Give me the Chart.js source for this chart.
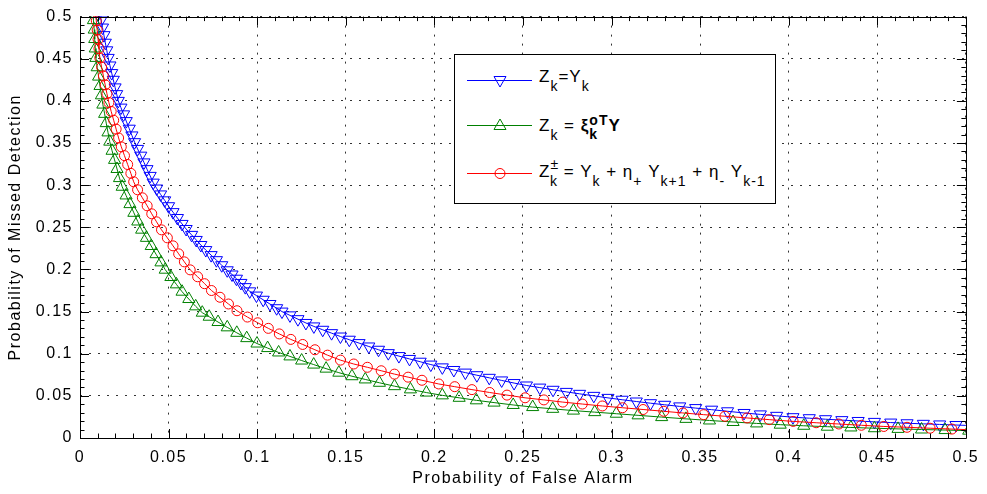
<!DOCTYPE html>
<html>
<head>
<meta charset="utf-8">
<script src="https://cdn.jsdelivr.net/npm/chart.js@4.4.1/dist/chart.umd.min.js"></script>
<style>
  body { margin: 0; background: #fff; }
  #wrap { position: relative; width: 987px; height: 494px; }
  #legend {
    position: absolute; left: 454px; top: 54px; width: 322px; height: 150px;
    box-sizing: border-box; border: 1px solid #000; background: #fff;
  }
  #legend svg { position: absolute; left: 0; top: 0; }
  .row {
    position: absolute; left: 539px; color: #000; white-space: nowrap;
    font: 17px 'Liberation Sans', Arial, Helvetica, sans-serif;
    line-height: 17px; letter-spacing: 1px;
  }
  .row sub, .row sup { font-size: 14px; vertical-align: baseline; position: relative; line-height: 0; }
  .row sub { top: 9px; }
  .row sup { top: -8px; }
</style>
</head>
<body>
<div id="wrap">
  <canvas id="roc" width="987" height="494"></canvas>
  <div id="legend">
    <svg width="320" height="148">
      <g fill="none" stroke-width="1">
        <line x1="12" y1="25.5" x2="77" y2="25.5" stroke="#0000ff"/>
        <polygon points="45,32 39,21.5 51,21.5" stroke="#0000ff"/>
        <line x1="12" y1="70.5" x2="77" y2="70.5" stroke="#008000"/>
        <polygon points="45,64 39,74.5 51,74.5" stroke="#008000"/>
        <line x1="12" y1="118.5" x2="77" y2="118.5" stroke="#ff0000"/>
        <circle cx="45" cy="118.5" r="5" stroke="#ff0000"/>
      </g>
    </svg>
  </div>
  <div class="row" style="top:68px">Z<sub>k</sub>=Y<sub>k</sub></div>
  <div class="row" style="top:117px">Z<sub>k</sub> = <b>ξ<sub style="top:8px">k</sub><sup style="top:-6px;margin-left:-8.8px">oT</sup>Y</b></div>
  <div class="row" style="top:163px">Z<sup>±</sup><sub style="margin-left:-9px">k</sub> = Y<sub>k</sub> + η<sub>+</sub> Y<sub>k+1</sub> + η<sub>-</sub> Y<sub>k-1</sub></div>
</div>
<script>
// ticks
const xTicks = [0, 0.05, 0.1, 0.15, 0.2, 0.25, 0.3, 0.35, 0.4, 0.45, 0.5];
const xTickLabels = ['0', '0.05', '0.1', '0.15', '0.2', '0.25', '0.3', '0.35', '0.4', '0.45', '0.5'];
const yTicks = [0, 0.05, 0.1, 0.15, 0.2, 0.25, 0.3, 0.35, 0.4, 0.45, 0.5];
const yTickLabels = ['0', '0.05', '0.1', '0.15', '0.2', '0.25', '0.3', '0.35', '0.4', '0.45', '0.5'];

// Z_k = Y_k (blue)
const blueX = [0.0111, 0.0119, 0.0127, 0.0135, 0.0143, 0.0151, 0.0159, 0.0169, 0.0179, 0.0188,
  0.0198, 0.0207, 0.0216, 0.0231, 0.0246, 0.0261, 0.0278, 0.0293, 0.0308, 0.0325,
  0.0343, 0.0361, 0.0378, 0.0396, 0.0413, 0.0433, 0.0455, 0.0478, 0.0500, 0.0525,
  0.0550, 0.0576, 0.0599, 0.0630, 0.0656, 0.0682, 0.0710, 0.0740, 0.0770, 0.0800,
  0.0831, 0.0858, 0.0883, 0.0908, 0.0933, 0.0958, 0.0996, 0.1034, 0.1072, 0.1110, 0.1140,
  0.1185, 0.123, 0.1275, 0.132, 0.137, 0.142, 0.147, 0.152, 0.1575, 0.163,
  0.1685, 0.174, 0.180, 0.186, 0.192, 0.198, 0.2045, 0.211, 0.2175, 0.224,
  0.231, 0.238, 0.245, 0.252, 0.2595, 0.267, 0.2745, 0.282, 0.290, 0.298,
  0.306, 0.314, 0.322, 0.330, 0.3385, 0.3475, 0.3565, 0.3655, 0.3748, 0.384,
  0.3932, 0.4024, 0.4116, 0.4208, 0.43, 0.4392, 0.4484, 0.4576, 0.4668, 0.476,
  0.4852, 0.4944, 0.5036];
const blueY = [0.505, 0.496, 0.487, 0.478, 0.469, 0.460, 0.451, 0.442, 0.433, 0.425,
  0.416, 0.408, 0.400, 0.392, 0.384, 0.376, 0.367, 0.359, 0.351, 0.343,
  0.335, 0.327, 0.319, 0.311, 0.303, 0.296, 0.289, 0.282, 0.275, 0.268,
  0.261, 0.254, 0.248, 0.241, 0.235, 0.229, 0.223, 0.217, 0.211, 0.205,
  0.199, 0.194, 0.189, 0.184, 0.179, 0.174, 0.169, 0.164, 0.159, 0.154, 0.150,
  0.1455, 0.141, 0.1365, 0.1324, 0.1284, 0.1244, 0.1204, 0.1166, 0.1126, 0.1086,
  0.1047, 0.1007, 0.0972, 0.0938, 0.0905, 0.0871, 0.0838, 0.0807, 0.0776, 0.0745,
  0.0714, 0.0683, 0.0652, 0.0623, 0.0598, 0.0572, 0.0547, 0.0524, 0.0500, 0.0476,
  0.0454, 0.0433, 0.0413, 0.0394, 0.0375, 0.0355, 0.0336, 0.0317, 0.0297, 0.0280,
  0.0263, 0.0247, 0.0235, 0.0223, 0.0212, 0.0202, 0.0191, 0.0183, 0.0175, 0.0168,
  0.0161, 0.0154, 0.0147];

// Z_k = xi^oT_k Y (green)
const greenX = [0.0073, 0.0076, 0.0080, 0.0083, 0.0086, 0.0090, 0.0097, 0.0105, 0.0113, 0.0121,
  0.0129, 0.0139, 0.0148, 0.0158, 0.0168, 0.0181, 0.0195, 0.0209, 0.0223, 0.0238,
  0.0260, 0.0282, 0.0304, 0.0326, 0.0348, 0.0375, 0.0402, 0.0429, 0.0457, 0.0481,
  0.0513, 0.0544, 0.0576, 0.0614, 0.0653,
  0.069, 0.0729, 0.0779, 0.0831, 0.0885, 0.0941, 0.0999, 0.1059, 0.1121, 0.1185,
  0.1251, 0.1319, 0.1389, 0.1461, 0.1535, 0.161, 0.169, 0.1775, 0.1865, 0.1955,
  0.2045, 0.214, 0.2237, 0.2337, 0.2445, 0.2555, 0.2668, 0.2785, 0.2905, 0.3027,
  0.315, 0.3283, 0.342, 0.3553, 0.3686, 0.3819, 0.3952, 0.4085, 0.4218, 0.4351,
  0.4484, 0.4617, 0.475, 0.4883, 0.5016];
const greenY = [0.507, 0.4958, 0.4846, 0.4734, 0.4622, 0.451, 0.4399, 0.4288, 0.4177, 0.4066,
  0.3956, 0.3846, 0.3736, 0.3626, 0.3516, 0.3408, 0.33, 0.3192, 0.3084, 0.2981,
  0.2878, 0.2775, 0.2672, 0.2569, 0.2472, 0.2375, 0.2278, 0.2181, 0.2084, 0.1997,
  0.191, 0.1823, 0.1736, 0.1649, 0.1562,
  0.1487, 0.1439, 0.1376, 0.1313, 0.1248, 0.1185, 0.1121, 0.1067, 0.1015, 0.0968,
  0.0919, 0.0871, 0.0823, 0.0775, 0.0733, 0.0695, 0.0655, 0.0615, 0.0577, 0.0539,
  0.0506, 0.0477, 0.0447, 0.042, 0.0392, 0.0367, 0.0346, 0.0325, 0.0307, 0.0288,
  0.0269, 0.0248, 0.0227, 0.0208, 0.019, 0.0173, 0.0158, 0.0145, 0.0134, 0.0125,
  0.0116, 0.0108, 0.0101, 0.0094, 0.0087];

// Z_k^± (red)
const redX = [0.0088, 0.0092, 0.0097, 0.0102, 0.0107, 0.0112, 0.0122, 0.0132, 0.0142, 0.0152,
  0.0163, 0.0176, 0.0190, 0.0204, 0.0218, 0.0233, 0.0251, 0.0269, 0.0287, 0.0303,
  0.0325, 0.0352, 0.0379, 0.0405, 0.0432, 0.0460, 0.0493, 0.0525, 0.0557, 0.0589,
  0.0622, 0.0664, 0.0703, 0.0742, 0.0790, 0.0838, 0.0886,
  0.0945, 0.1003, 0.1063, 0.1125, 0.119, 0.1257, 0.1326, 0.1397, 0.147, 0.1545,
  0.1622, 0.170, 0.1775, 0.1852, 0.193, 0.2025, 0.2115, 0.2212, 0.2312, 0.241,
  0.2512, 0.2618, 0.2725, 0.2835, 0.2948, 0.3062, 0.3178, 0.3295, 0.3403, 0.352,
  0.364, 0.3765, 0.389, 0.4025, 0.4155, 0.4283, 0.441, 0.4537, 0.4668, 0.4798,
  0.4921, 0.5046];
const redY = [0.506, 0.495, 0.484, 0.473, 0.462, 0.451, 0.440, 0.4295, 0.419, 0.4085,
  0.398, 0.3875, 0.377, 0.3665, 0.356, 0.3455, 0.335, 0.3245, 0.314, 0.304,
  0.2945, 0.285, 0.2755, 0.266, 0.2565, 0.247, 0.2375, 0.228, 0.2185, 0.209,
  0.1995, 0.1913, 0.1831, 0.175, 0.167, 0.159, 0.151,
  0.1435, 0.1367, 0.1301, 0.1235, 0.117, 0.111, 0.1047, 0.0983, 0.0924, 0.0878,
  0.0839, 0.0798, 0.0758, 0.0722, 0.0685, 0.0641, 0.0609, 0.0574, 0.054, 0.0509,
  0.0477, 0.0452, 0.0426, 0.0403, 0.038, 0.0359, 0.0338, 0.0317, 0.0297, 0.0277,
  0.0258, 0.0238, 0.0218, 0.0197, 0.0181, 0.0166, 0.0151, 0.0137, 0.0127, 0.0116,
  0.0106, 0.0096];

const FONT = "'Liberation Sans', Arial, Helvetica, sans-serif";

function pts(xs, ys) {
    return xs.map((x, i) => ({ x: x, y: ys[i] }));
}

function series(xs, ys, color, style, rotation, radius, order) {
    return {
        data: pts(xs, ys),
        borderColor: color,
        borderWidth: 1,
        pointStyle: style,
        pointRotation: rotation,
        pointRadius: radius,
        pointBorderColor: color,
        pointBackgroundColor: 'rgba(0,0,0,0)',
        pointBorderWidth: 1,
        tension: 0,
        order: order
    };
}

// MATLAB style box with inner ticks on all four sides
const frame = {
    id: 'frame',
    beforeDraw(chart) {
        chart.ctx.letterSpacing = '1.5px';
    },
    afterDraw(chart) {
        const { ctx, chartArea: a, scales: { x, y } } = chart;
        ctx.save();
        ctx.letterSpacing = '0px';
        ctx.strokeStyle = '#000';
        ctx.lineWidth = 1;
        ctx.setLineDash([]);
        ctx.beginPath();
        for (let i = 0; i <= 50; i++) {
            const len = i % 5 === 0 ? 9 : 4.5;
            const px = Math.round(x.getPixelForValue(i / 100)) + 0.5;
            ctx.moveTo(px, a.bottom); ctx.lineTo(px, a.bottom - len);
            ctx.moveTo(px, a.top); ctx.lineTo(px, a.top + len);
            const py = Math.round(y.getPixelForValue(i / 100)) + 0.5;
            ctx.moveTo(a.left, py); ctx.lineTo(a.left + len, py);
            ctx.moveTo(a.right, py); ctx.lineTo(a.right - len, py);
        }
        ctx.rect(Math.round(a.left) + 0.5, Math.round(a.top) + 0.5,
            Math.round(a.right - a.left), Math.round(a.bottom - a.top));
        ctx.stroke();
        ctx.restore();
    }
};

new Chart(document.getElementById('roc'), {
    type: 'line',
    data: {
        datasets: [
            series(blueX, blueY, '#0000ff', 'triangle', 180, 7, 3),
            series(greenX, greenY, '#008000', 'triangle', 0, 7, 2),
            series(redX, redY, '#ff0000', 'circle', 0, 5, 1)
        ]
    },
    options: {
        responsive: false,
        animation: false,
        events: [],
        layout: { padding: { left: 0, top: 15, right: 18, bottom: 0 } },
        plugins: { legend: { display: false }, tooltip: { enabled: false } },
        scales: {
            x: {
                type: 'linear', min: 0, max: 0.5,
                afterBuildTicks: s => { s.ticks = xTicks.map(v => ({ value: v })); },
                afterFit: s => { s.height = 56; },
                ticks: {
                    callback: (v, i) => xTickLabels[i],
                    font: { family: FONT, size: 16 }, color: '#000',
                    padding: 10, maxRotation: 0, autoSkip: false
                },
                grid: { drawTicks: false, color: '#333', lineWidth: 1 },
                border: { display: false, dash: [2, 7] },
                title: {
                    display: true, text: 'Probability of False Alarm', color: '#000',
                    font: { family: FONT, size: 16 }, padding: { top: 0, bottom: 6 }
                }
            },
            y: {
                type: 'linear', min: 0, max: 0.5,
                afterBuildTicks: s => { s.ticks = yTicks.map(v => ({ value: v })); },
                afterFit: s => { s.width = 80; },
                ticks: {
                    callback: (v, i) => yTickLabels[i],
                    font: { family: FONT, size: 16 }, color: '#000',
                    padding: 7, autoSkip: false
                },
                grid: { drawTicks: false, color: '#333', lineWidth: 1 },
                border: { display: false, dash: [2, 7] },
                title: {
                    display: true, text: 'Probability of Missed Detection', color: '#000',
                    font: { family: FONT, size: 16 }, padding: { top: 6, bottom: 0 }
                }
            }
        }
    },
    plugins: [frame]
});
</script>
</body>
</html>
